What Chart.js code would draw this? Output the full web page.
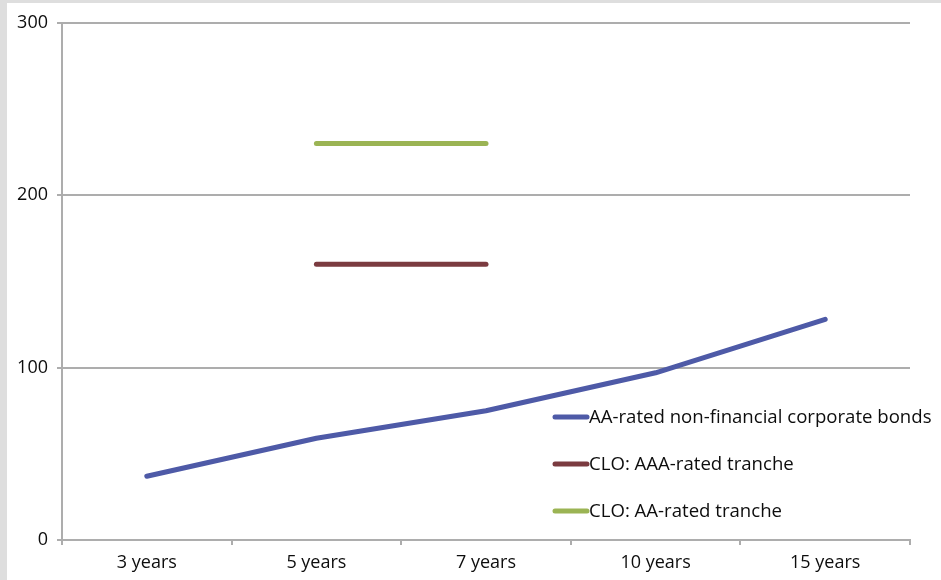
<!DOCTYPE html>
<html>
<head>
<meta charset="utf-8">
<script src="https://cdn.jsdelivr.net/npm/chart.js@4.4.1/dist/chart.umd.min.js"></script>
<style>
  html, body { margin: 0; padding: 0; background: #dedede; }
  body { width: 941px; height: 580px; position: relative; overflow: hidden; }
  #wrap { position: absolute; left: 7px; top: 3px; width: 934px; height: 577px; background: #ffffff; }
</style>
</head>
<body>
<div id="wrap"><canvas id="c"></canvas></div>
<script>
// Spread by maturity (basis points)
const maturities = ['3 years', '5 years', '7 years', '10 years', '15 years'];
const corporateAA = [37, 59, 75, 97, 128];
const cloAAA = [null, 160, 160, null, null];
const cloAA = [null, 230, 230, null, null];
const seriesNames = ['AA-rated non-financial corporate bonds', 'CLO: AAA-rated tranche', 'CLO: AA-rated tranche'];
const seriesColors = ['#4e5aa7', '#7b3b40', '#9bb454'];

const FONT = '"Open Sans", "Liberation Sans", sans-serif';
const GRID = '#adadad';

// Legend stacked inside the plot, lower right
const innerLegend = {
  id: 'innerLegend',
  afterDraw(chart) {
    const { ctx, chartArea } = chart;
    const x0 = chartArea.left + 493;
    const rows = [chartArea.bottom - 123, chartArea.bottom - 76, chartArea.bottom - 29];
    ctx.save();
    ctx.font = '18.6px ' + FONT;
    ctx.textBaseline = 'middle';
    ctx.fillStyle = '#0d0d0d';
    chart.data.datasets.forEach((ds, i) => {
      const y = rows[i];
      ctx.strokeStyle = ds.borderColor;
      ctx.lineWidth = 5;
      ctx.lineCap = 'round';
      ctx.beginPath();
      ctx.moveTo(x0, y);
      ctx.lineTo(x0 + 32, y);
      ctx.stroke();
      ctx.fillText(ds.label, x0 + 34, y + 1);
    });
    ctx.restore();
  }
};

new Chart(document.getElementById('c'), {
  type: 'line',
  data: {
    labels: maturities,
    datasets: [
      { label: seriesNames[0], data: corporateAA, borderColor: seriesColors[0] },
      { label: seriesNames[1], data: cloAAA, borderColor: seriesColors[1] },
      { label: seriesNames[2], data: cloAA, borderColor: seriesColors[2] }
    ].map(d => Object.assign(d, {
      borderWidth: 5,
      borderCapStyle: 'round',
      borderJoinStyle: 'round',
      pointRadius: 0,
      tension: 0,
      spanGaps: false,
      fill: false
    }))
  },
  options: {
    responsive: true,
    maintainAspectRatio: false,
    animation: false,
    layout: { padding: { top: 15, right: 31, bottom: 0, left: 0 } },
    plugins: {
      legend: { display: false },
      tooltip: { enabled: false }
    },
    scales: {
      x: {
        offset: true,
        grid: { offset: true, drawOnChartArea: false, drawTicks: true, tickLength: 5, color: GRID, lineWidth: 2 },
        border: { color: GRID, width: 2 },
        ticks: { color: '#0d0d0d', font: { family: FONT, size: 18 }, padding: 7, maxRotation: 0 },
        afterFit(scale) { scale.height = 40; }
      },
      y: {
        min: 0,
        max: 300,
        ticks: { stepSize: 100, color: '#0d0d0d', font: { family: FONT, size: 18 }, padding: 9 },
        grid: { color: GRID, lineWidth: 2, tickLength: 5 },
        border: { color: GRID, width: 2 },
        afterFit(scale) { scale.width = 55; }
      }
    }
  },
  plugins: [innerLegend]
});
</script>
</body>
</html>
